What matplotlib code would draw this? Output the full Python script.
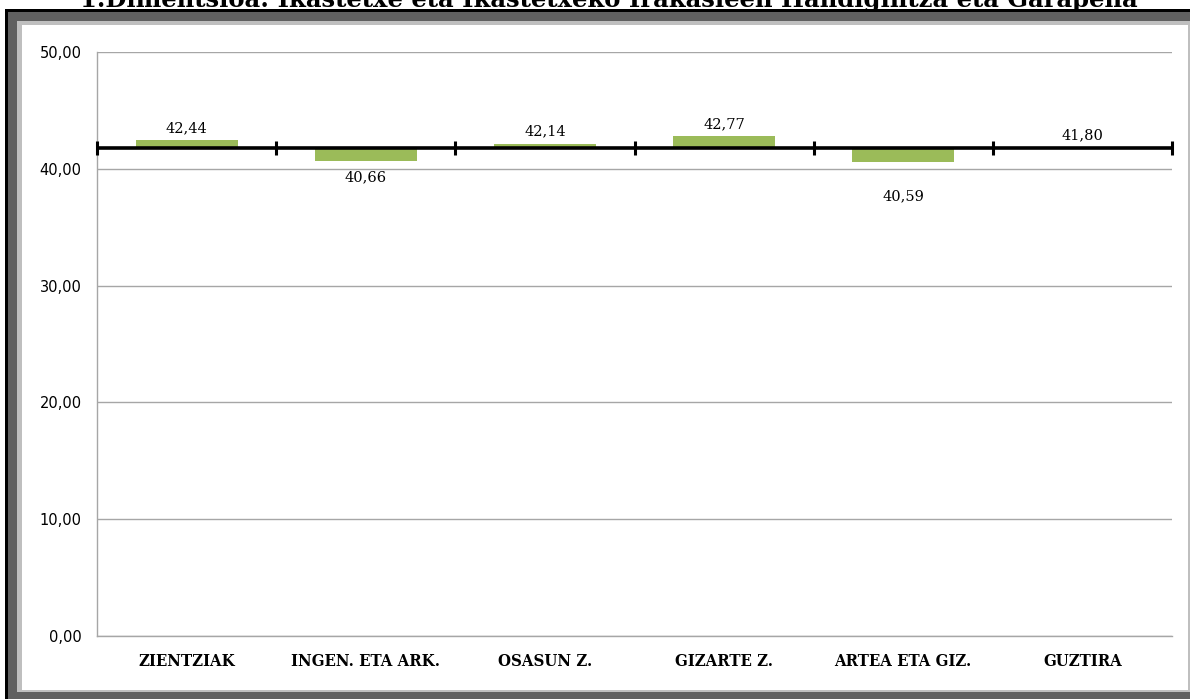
import matplotlib
matplotlib.use("Agg")
import matplotlib.pyplot as plt
from matplotlib.patches import Rectangle
import numpy as np

# ---- data ----
categories = ["ZIENTZIAK", "INGEN. ETA ARK.", "OSASUN Z.", "GIZARTE Z.", "ARTEA ETA GIZ.", "GUZTIRA"]
values = [42.44, 40.66, 42.14, 42.77, 40.59, 41.80]
total = 41.80
yticks = [0, 10, 20, 30, 40, 50]
ytick_labels = ["0,00", "10,00", "20,00", "30,00", "40,00", "50,00"]
title = "1.Dimentsioa: Ikastetxe eta Ikastetxeko Irakasleen Handigintza eta Garapena"
label_offsets = [9, -12, 9, 9, -25, 9]  # points, label placement

W, H = 1192, 699
fig = plt.figure(figsize=(W / 100, H / 100), dpi=100)
fig.patch.set_facecolor("white")

# ---- frame (pixel coordinates overlay) ----
bg = fig.add_axes([0, 0, 1, 1], zorder=0)
bg.set_xlim(0, W)
bg.set_ylim(H, 0)
bg.axis("off")
bg.add_patch(Rectangle((5, 9), 1185, 700, facecolor="#000000", edgecolor="none"))
bg.add_patch(Rectangle((8, 12), 1182, 700, facecolor="#606060", edgecolor="none"))
bg.add_patch(Rectangle((17, 21), 1173, 671, facecolor="#BFBFBF", edgecolor="none"))
bg.add_patch(Rectangle((22, 25), 1166, 665, facecolor="white", edgecolor="none"))
bg.text(609, 7, title, ha="center", va="baseline", fontsize=17.5,
        fontweight="bold", family="DejaVu Serif", color="black")

# ---- main axes ----
ax = fig.add_axes([97 / W, 1 - 636 / H, (1172 - 97) / W, (636 - 52) / H], zorder=1)
ax.patch.set_alpha(0)
x = np.arange(len(categories))
ax.set_xlim(-0.5, len(categories) - 0.5)
ax.set_ylim(0, 50)

ax.set_yticks(yticks)
ax.set_yticklabels(ytick_labels, fontsize=10.5, family="DejaVu Sans")
ax.yaxis.grid(True, color="#A6A6A6", linewidth=1)
ax.set_axisbelow(True)
ax.tick_params(axis="y", length=0, pad=11)
ax.tick_params(axis="x", length=0, pad=12)
ax.set_xticks(x)
ax.set_xticklabels(categories, fontsize=12, fontweight="bold", family="DejaVu Serif",
                   fontstretch="condensed")

for s in ["top", "right"]:
    ax.spines[s].set_visible(False)
for s in ["left", "bottom"]:
    ax.spines[s].set_color("#A6A6A6")
    ax.spines[s].set_linewidth(1)

diffs = [v - total for v in values]
bars = ax.bar(x, diffs, bottom=total, width=0.57, color="#9BBB59", zorder=2)

# reference line with boundary ticks
bounds = np.arange(len(categories) + 1) - 0.5
ax.plot([bounds[0], bounds[-1]], [total, total], color="black", lw=2.6, zorder=3,
        solid_capstyle="butt", clip_on=False)
ax.plot(bounds, [total] * len(bounds), linestyle="none", marker="|", markersize=10,
        markeredgewidth=2.2, color="black", zorder=3, clip_on=False)

for xi, v, off in zip(x, values, label_offsets):
    ax.annotate(f"{v:.2f}".replace(".", ","), (xi, v), xytext=(0, off),
                textcoords="offset points", ha="center", va="center",
                fontsize=10.5, family="DejaVu Serif", color="black")

fig.savefig("out.png", dpi=100)
